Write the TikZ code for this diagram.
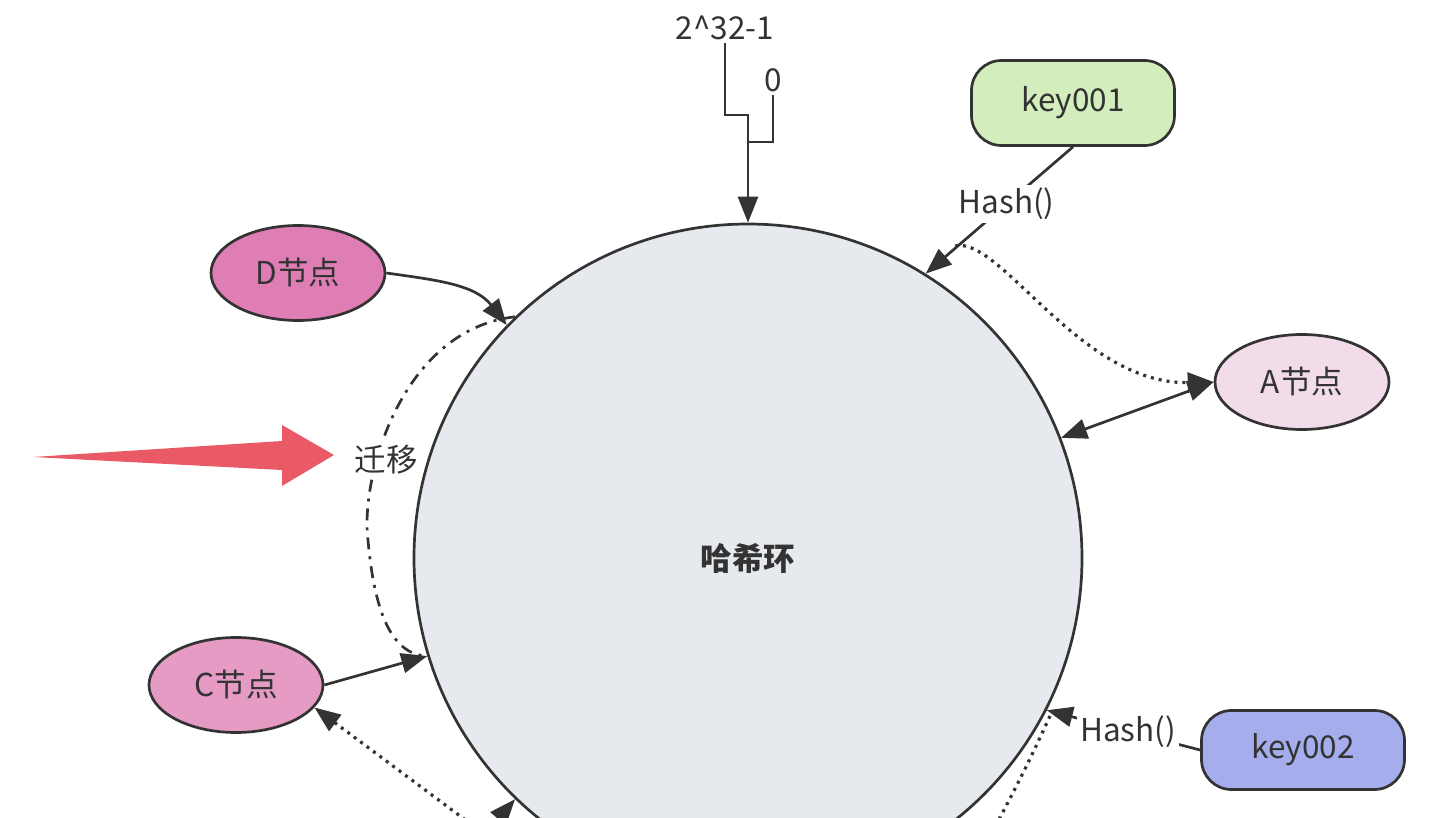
\documentclass[tikz,border=0pt]{standalone}
\usepackage{fontspec}
\setmainfont{Noto Sans CJK SC}
\usetikzlibrary{arrows.meta,shapes.geometric}
\definecolor{ln}{HTML}{333333}
\definecolor{ringfill}{HTML}{E6EAEE}
\definecolor{kone}{HTML}{D3EDBC}
\definecolor{ktwo}{HTML}{A5ADEC}
\definecolor{afill}{HTML}{F3DCE9}
\definecolor{cfill}{HTML}{E59BC4}
\definecolor{dfill}{HTML}{DF7DB5}
\definecolor{redarrow}{HTML}{E95A66}
\tikzset{
  conn/.style={draw=ln, line width=2.7pt},
  tip/.style={-{Triangle[length=26pt,width=20pt]}},
  dotline/.style={draw=ln, line width=3.2pt, dash pattern=on 3pt off 5pt},
  dashdotline/.style={draw=ln, line width=2.7pt, dash pattern=on 12pt off 7pt on 3pt off 7pt},
  keybox/.style={draw=ln, line width=2.7pt, rectangle, rounded corners=30pt, minimum width=203pt, text=ln},
  nodeell/.style={draw=ln, line width=2.7pt, ellipse, minimum width=174pt, minimum height=95pt, inner sep=0pt, text=ln},
  lbl/.style={text=ln, inner sep=3pt},
}
\begin{document}
\begin{tikzpicture}[x=1pt,y=-1pt, font=\fontsize{31.5}{38}\selectfont]
\useasboundingbox (0,0) rectangle (1444,818);
\clip (0,0) rectangle (1444,818);

% ring
\node[circle, draw=ln, line width=2.7pt, fill=ringfill, minimum size=668pt, inner sep=0pt, text=ln, font=\fontsize{31.5}{38}\selectfont\bfseries] (ring) at (748,558) {哈希环};

% top labels
\node[lbl] (tl) at (725,28) {2\textasciicircum 32-1};
\node[lbl] (zero) at (773,80) {0};
\coordinate (j1) at (748,115);
\coordinate (j2) at (748,142);
\draw[conn, tip] (tl.south) |- (j1) -- (ring.north);
\draw[conn] (zero.south) |- (j2);

% key001
\node[keybox, fill=kone, minimum height=85pt] (k1) at (1073,103) {key001};
\draw[conn, tip] (k1.south) -- node[pos=0.45, fill=white, lbl] {Hash()} (ring.58);

% A node
\node[nodeell, fill=afill] (A) at (1302,382) {A节点};
\draw[conn, {Triangle[length=26pt,width=20pt]}-{Triangle[length=26pt,width=20pt]}] (A.west) -- (ring.21.5);
\coordinate (d1) at (955,246);
\draw[dotline, tip] (d1) .. controls (1000,235) and (1080,385) .. (A.west);

% key002
\node[keybox, fill=ktwo, minimum height=79pt] (k2) at (1303,750) {key002};
\draw[conn, tip] (k2.west) -- node[pos=0.47, fill=white, lbl] {Hash()} (ring.-27);
\coordinate (d2) at (1050,716);
\coordinate (d2e) at (985,845);
\draw[dotline] (d2) .. controls (1030,760) and (1010,800) .. (d2e);

% D node
\node[nodeell, fill=dfill] (D) at (298,273) {D节点};
\draw[conn, tip] (D.east) to[out=-8, in=128] (ring.136);

% C node
\node[nodeell, fill=cfill] (C) at (236,685) {C节点};
\draw[conn, tip] (C.east) -- (ring.197.7);
\coordinate (cb) at (495,842);
\draw[dotline, {Triangle[length=26pt,width=20pt]}-] (C.-16) -- (cb);
\coordinate (kb) at (478,842);
\draw[conn, tip] (kb) -- (ring.226);

% migration
\draw[dashdotline] (ring.134) .. controls (400,330) and (360,480) .. (368,540)
   .. controls (375,620) and (395,655) .. (ring.197);
\node[lbl, fill=white] (mig) at (386,460) {迁移};

% red arrow
\fill[redarrow] (33,457) -- (282,441) -- (282,425) -- (334,455) -- (282,486) -- (282,470) -- cycle;
\end{tikzpicture}
\end{document}
